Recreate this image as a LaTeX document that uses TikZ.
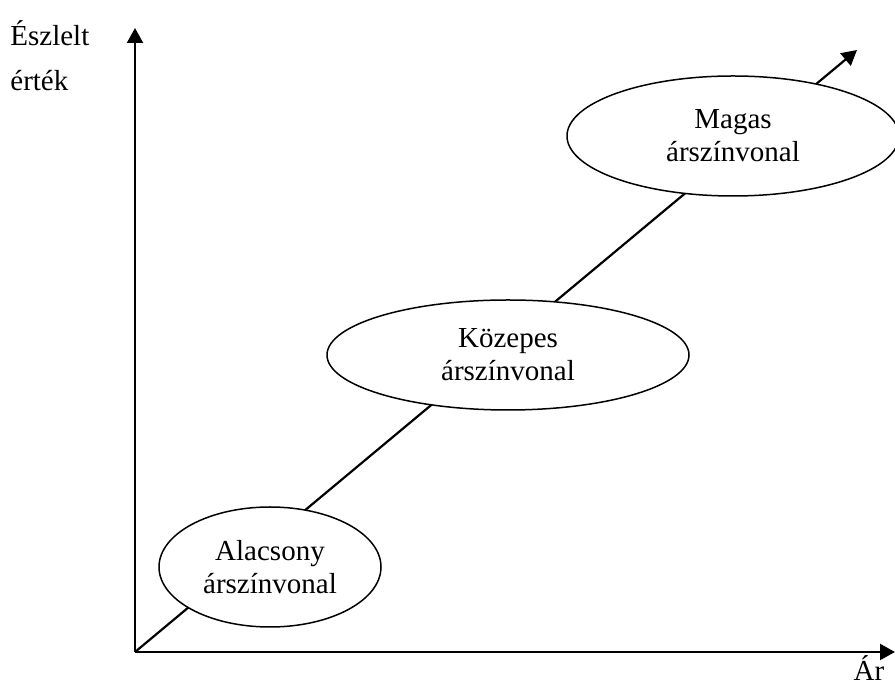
\documentclass[tikz,border=0pt]{standalone}
\usepackage{fontspec}
\setmainfont{Liberation Serif}
\usetikzlibrary{shapes.geometric,arrows.meta}
\begin{document}
\begin{tikzpicture}[x=0.5pt,y=-0.5pt,
  axis/.style={line width=1.1pt,-{Triangle[length=7.5pt,width=8pt]}},
  level/.style={ellipse,draw,line width=0.75pt,fill=white,inner sep=0pt,
    align=center,font=\fontsize{14.5}{16.5}\selectfont},
  lbl/.style={font=\fontsize{14.5}{16.5}\selectfont,inner sep=0pt}]
\useasboundingbox (0,0) rectangle (895,688);
\clip (0,0) rectangle (895,688);
% axes
\coordinate (O) at (135,652);
\coordinate (ytip) at (135,28);
\coordinate (xtip) at (895,652);
\coordinate (dtip) at (857,50);
\draw[axis] (O) -- (ytip);
\draw[axis] (O) -- (xtip);
% price / value diagonal
\draw[axis] (O) -- (dtip);
% price levels
\node[level,minimum width=111pt,minimum height=60pt] (low) at (270,567) {Alacsony\\árszínvonal};
\node[level,minimum width=181pt,minimum height=55pt] (mid) at (508,355) {Közepes\\árszínvonal};
\node[level,minimum width=166pt,minimum height=60pt] (high) at (733,136) {Magas\\árszínvonal};
% axis labels
\node[lbl,anchor=west] (ylab1) at (10,33) {Észlelt};
\node[lbl,anchor=west] (ylab2) at (10,81) {érték};
\node[lbl,anchor=base] (xlab) at (869,681) {Ár};
\end{tikzpicture}
\end{document}
